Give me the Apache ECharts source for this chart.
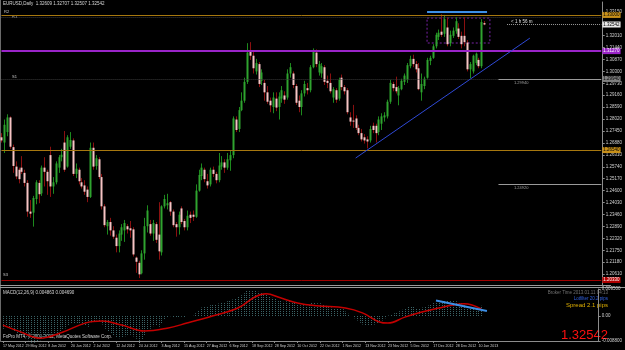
<!DOCTYPE html>
<html><head><meta charset="utf-8">
<script src="https://cdn.jsdelivr.net/npm/echarts@6/dist/echarts.min.js"></script>
<style>html,body{margin:0;padding:0;background:#000;}#c{width:625px;height:350px;}</style>
</head><body><div id="c"></div>
<script>
// ---- trading days per month (EURUSD Daily) ----
const monthDays = [
  ['May', 2012, [17,18,21,22,23,24,25,28,29,30,31]],
  ['Jun', 2012, [1,4,5,6,7,8,11,12,13,14,15,18,19,20,21,22,25,26,27,28,29]],
  ['Jul', 2012, [2,3,4,5,6,9,10,11,12,13,16,17,18,19,20,23,24,25,26,27,30,31]],
  ['Aug', 2012, [1,2,3,6,7,8,9,10,13,14,15,16,17,20,21,22,23,24,27,28,29,30,31]],
  ['Sep', 2012, [3,4,5,6,7,10,11,12,13,14,17,18,19,20,21,24,25,26,27,28]],
  ['Oct', 2012, [1,2,3,4,5,8,9,10,11,12,15,16,17,18,19,22,23,24,25,26,29,30,31]],
  ['Nov', 2012, [1,2,5,6,7,8,9,12,13,14,15,16,19,20,21,22,23,26,27,28,29,30]],
  ['Dec', 2012, [3,4,5,6,7,10,11,12,13,14,17,18,19,20,21,24,26,27,28,31]],
  ['Jan', 2013, [2,3,4,7,8,9,10,11]]
];
// ---- OHLC [open, high, low, close] ----
const ohlc = [
 [1.2715,1.2735,1.2690,1.2700],[1.2690,1.2800,1.2640,1.2775],[1.2740,1.2825,1.2720,1.2810],[1.2810,1.2815,1.2660,1.2670],
 [1.2668,1.2680,1.2545,1.2578],[1.2575,1.2600,1.2515,1.2528],[1.2560,1.2570,1.2495,1.2515],[1.2570,1.2625,1.2540,1.2550],
 [1.2545,1.2560,1.2480,1.2497],[1.2497,1.2510,1.2335,1.2360],[1.2360,1.2415,1.2330,1.2350],
 [1.2355,1.2435,1.2288,1.2425],[1.2420,1.2510,1.2395,1.2500],[1.2497,1.2510,1.2400,1.2443],[1.2447,1.2580,1.2435,1.2570],
 [1.2570,1.2620,1.2480,1.2550],[1.2550,1.2560,1.2440,1.2505],[1.2630,1.2670,1.2430,1.2480],[1.2480,1.2525,1.2445,1.2500],
 [1.2500,1.2600,1.2490,1.2590],[1.2570,1.2630,1.2545,1.2620],[1.2620,1.2660,1.2600,1.2632],[1.2690,1.2745,1.2550,1.2560],
 [1.2575,1.2725,1.2570,1.2715],[1.2670,1.2740,1.2660,1.2702],[1.2700,1.2710,1.2530,1.2540],[1.2540,1.2590,1.2520,1.2565],
 [1.2560,1.2570,1.2490,1.2505],[1.2500,1.2520,1.2470,1.2480],[1.2485,1.2510,1.2440,1.2455],[1.2465,1.2480,1.2405,1.2430],
 [1.2430,1.2690,1.2425,1.2665],
 [1.2665,1.2690,1.2560,1.2575],[1.2578,1.2630,1.2560,1.2615],[1.2610,1.2620,1.2515,1.2525],[1.2525,1.2540,1.2370,1.2385],
 [1.2385,1.2395,1.2285,1.2295],[1.2290,1.2320,1.2250,1.2310],[1.2310,1.2330,1.2245,1.2270],[1.2270,1.2290,1.2230,1.2240],
 [1.2235,1.2250,1.2165,1.2195],[1.2195,1.2270,1.2165,1.2255],[1.2250,1.2300,1.2220,1.2285],[1.2270,1.2320,1.2215,1.2305],
 [1.2290,1.2300,1.2255,1.2275],[1.2280,1.2315,1.2235,1.2270],[1.2275,1.2285,1.2145,1.2155],[1.2140,1.2145,1.2067,1.2120],
 [1.2115,1.2125,1.2042,1.2060],[1.2065,1.2175,1.2060,1.2160],[1.2160,1.2330,1.2130,1.2290],[1.2290,1.2390,1.2260,1.2365],
 [1.2300,1.2320,1.2245,1.2255],[1.2255,1.2320,1.2220,1.2305],
 [1.2300,1.2310,1.2210,1.2225],[1.2250,1.2405,1.2130,1.2170],[1.2165,1.2390,1.2150,1.2385],[1.2385,1.2440,1.2375,1.2420],
 [1.2390,1.2445,1.2370,1.2400],[1.2405,1.2410,1.2340,1.2360],[1.2360,1.2370,1.2285,1.2295],[1.2300,1.2310,1.2240,1.2285],
 [1.2285,1.2360,1.2250,1.2345],[1.2375,1.2385,1.2300,1.2310],[1.2315,1.2325,1.2270,1.2285],[1.2285,1.2365,1.2270,1.2340],
 [1.2345,1.2360,1.2305,1.2330],[1.2345,1.2365,1.2315,1.2335],[1.2335,1.2490,1.2330,1.2460],[1.2460,1.2560,1.2455,1.2535],
 [1.2530,1.2590,1.2510,1.2570],[1.2560,1.2570,1.2500,1.2515],[1.2505,1.2540,1.2470,1.2485],[1.2490,1.2570,1.2480,1.2560],
 [1.2560,1.2575,1.2525,1.2540],[1.2540,1.2550,1.2495,1.2510],[1.2510,1.2640,1.2500,1.2580],
 [1.2575,1.2625,1.2560,1.2595],[1.2595,1.2610,1.2545,1.2570],[1.2570,1.2640,1.2560,1.2610],[1.2605,1.2650,1.2555,1.2630],
 [1.2630,1.2815,1.2615,1.2805],[1.2800,1.2815,1.2740,1.2750],[1.2755,1.2860,1.2740,1.2845],[1.2845,1.2930,1.2840,1.2890],
 [1.2890,1.3000,1.2880,1.2980],[1.2980,1.3165,1.2970,1.3120],[1.3125,1.3170,1.3085,1.3105],[1.3105,1.3125,1.3020,1.3045],
 [1.3030,1.3090,1.3015,1.3070],[1.3065,1.3075,1.2955,1.2970],[1.2985,1.3040,1.2965,1.3025],[1.2975,1.2990,1.2890,1.2930],
 [1.2930,1.2960,1.2875,1.2885],[1.2890,1.2905,1.2835,1.2868],[1.2860,1.2930,1.2830,1.2905],[1.2900,1.2930,1.2840,1.2857],
 [1.2860,1.2930,1.2800,1.2910],[1.2900,1.2960,1.2880,1.2940],[1.2915,1.2935,1.2875,1.2895],[1.2905,1.3040,1.2895,1.3020],
 [1.3020,1.3070,1.3000,1.3050],[1.3020,1.3030,1.2950,1.2965],[1.2960,1.2970,1.2870,1.2880],[1.2890,1.2915,1.2835,1.2860],
 [1.2860,1.2940,1.2820,1.2925],[1.2925,1.2985,1.2910,1.2970],[1.2950,1.2975,1.2920,1.2940],[1.2940,1.3060,1.2930,1.3050],
 [1.3050,1.3140,1.3045,1.3125],[1.3120,1.3135,1.3050,1.3065],[1.3025,1.3080,1.3010,1.3065],[1.3020,1.3070,1.3000,1.3055],
 [1.3050,1.3060,1.2965,1.2980],[1.2985,1.3010,1.2950,1.2975],[1.2975,1.3020,1.2925,1.2935],[1.2905,1.2955,1.2880,1.2945],
 [1.2940,1.2950,1.2880,1.2895],[1.2900,1.3000,1.2890,1.2990],[1.3000,1.3015,1.2940,1.2955],
 [1.2955,1.2965,1.2920,1.2935],[1.2940,1.2950,1.2825,1.2835],[1.2810,1.2835,1.2770,1.2790],[1.2795,1.2870,1.2760,1.2790],
 [1.2805,1.2820,1.2750,1.2760],[1.2760,1.2775,1.2725,1.2735],[1.2735,1.2755,1.2695,1.2705],[1.2715,1.2730,1.2685,1.2700],
 [1.2705,1.2720,1.2662,1.2695],[1.2700,1.2770,1.2690,1.2755],[1.2770,1.2785,1.2735,1.2750],[1.2770,1.2780,1.2690,1.2735],
 [1.2740,1.2815,1.2725,1.2800],[1.2780,1.2830,1.2750,1.2815],[1.2810,1.2835,1.2790,1.2820],[1.2815,1.2895,1.2805,1.2885],
 [1.2885,1.2990,1.2875,1.2975],[1.2970,1.2980,1.2935,1.2950],[1.2955,1.3005,1.2925,1.2935],[1.2915,1.2960,1.2868,1.2950],
 [1.2945,1.2995,1.2940,1.2985],[1.2980,1.3020,1.2965,1.3010],
 [1.2990,1.3070,1.2975,1.3060],[1.3055,1.3105,1.3045,1.3090],[1.3090,1.3110,1.3050,1.3065],[1.3065,1.3080,1.3025,1.3040],
 [1.3045,1.3070,1.2940,1.2945],[1.2930,1.3020,1.2890,1.2970],[1.2960,1.3005,1.2945,1.2995],[1.3000,1.3095,1.2995,1.3085],
 [1.3080,1.3105,1.3060,1.3095],[1.3095,1.3160,1.3090,1.3150],[1.3150,1.3215,1.3140,1.3205],[1.3195,1.3230,1.3180,1.3215],
 [1.3220,1.3303,1.3195,1.3205],[1.3210,1.3300,1.3195,1.3280],[1.3240,1.3290,1.3150,1.3160],[1.3165,1.3225,1.3150,1.3205],
 [1.3200,1.3240,1.3190,1.3225],[1.3222,1.3290,1.3210,1.3270],[1.3235,1.3260,1.3185,1.3195],[1.3200,1.3220,1.3140,1.3160],
 [1.3200,1.3290,1.3150,1.3170],[1.3168,1.3180,1.3030,1.3040],[1.3040,1.3075,1.2998,1.3065],[1.3030,1.3110,1.3020,1.3105],
 [1.3070,1.3120,1.3060,1.3115],[1.3085,1.3095,1.3045,1.3055],[1.3055,1.3280,1.3045,1.3266],[1.32609,1.32707,1.32507,1.32542]
];
// ---- MACD(12,26,9) main (histogram) ----
const macdMain = [
 -0.0045,-0.0042,-0.0040,-0.0048,-0.0056,-0.0063,-0.0068,-0.0070,-0.0074,-0.0085,-0.0094,
 -0.0094,-0.0088,-0.0085,-0.0078,-0.0074,-0.0072,-0.0072,-0.0070,-0.0062,-0.0053,
 -0.0046,-0.0044,-0.0034,-0.0027,-0.0028,-0.0026,-0.0028,-0.0031,-0.0035,-0.0038,
 -0.0022,-0.0018,-0.0015,-0.0018,-0.0030,-0.0045,-0.0055,-0.0063,-0.0070,-0.0077,
 -0.0078,-0.0075,-0.0071,-0.0068,-0.0066,-0.0072,-0.0080,-0.0088,-0.0084,-0.0068,
 -0.0052,-0.0045,-0.0036,-0.0032,-0.0038,-0.0025,-0.0012,-0.0004,-0.0001,-0.0004,
 -0.0006,-0.0004,-0.0003,-0.0004,0.0000,0.0000,0.0001,0.0010,0.0021,0.0030,
 0.0033,0.0034,0.0038,0.0040,0.0040,0.0044,0.0048,0.0048,0.0052,0.0056,
 0.0058,0.0062,0.0067,0.0073,0.0080,0.0088,0.0090,0.0089,0.0088,0.0085,
 0.0083,0.0078,0.0074,0.0068,0.0064,0.0060,0.0055,0.0053,0.0050,0.0052,
 0.0053,0.0051,0.0046,0.0040,0.0038,0.0038,0.0036,0.0040,0.0046,0.0046,
 0.0045,0.0045,0.0040,0.0036,0.0032,0.0030,0.0027,0.0026,0.0026,0.0024,
 0.0016,0.0008,0.0000,-0.0008,-0.0016,-0.0024,-0.0030,-0.0034,-0.0034,-0.0032,
 -0.0030,-0.0025,-0.0020,-0.0016,-0.0008,0.0002,0.0006,0.0010,0.0013,0.0017,
 0.0022,0.0028,0.0033,0.0035,0.0032,0.0028,0.0027,0.0030,0.0034,0.0037,
 0.0042,0.0048,0.0050,0.0054,0.0055,0.0054,0.0053,0.0054,0.0054,0.0052,
 0.0049,0.0046,0.0038,0.0033,0.0030,0.0028,0.0025,0.0032,0.0036
];
// ---- MACD signal line, read at [bar index, value] ----
const macdSignal = [
 [0,-0.0032],[6,-0.0055],[13,-0.0078],[21,-0.0057],[29,-0.0025],[35,-0.0018],[42,-0.0032],
 [50,-0.0053],[58,-0.0043],[65,-0.0025],[74,0.0000],[83,0.0028],[89,0.0067],[93,0.0078],
 [98,0.0064],[104,0.0046],[111,0.0036],[121,0.0028],[127,0.0011],[133,-0.0021],[136,-0.0025],
 [142,-0.0004],[148,0.0014],[154,0.0028],[159,0.0039],[163,0.0043],[169,0.0025]
];
// ---- right price axis tick labels ----
const priceTicks = [1.20040,1.20610,1.21180,1.21750,1.22320,1.22890,1.23460,1.24030,1.24600,1.25170,
 1.25740,1.26310,1.26880,1.27450,1.28020,1.28590,1.29160,1.29730,1.30300,1.30870,1.31440,1.32010,1.33150];
const macdTicks = [-0.0088, 0, 0.0095];
// ---- horizontal levels ----
const levelTop = 1.33000, levelPurple = 1.31270, levelGrayHi = 1.29940, levelMid = 1.26540, levelGrayLo = 1.24920, levelLow = 1.20330;
const dottedTop = 1.32900, bidPrice = 1.32542;
// ---- drawn objects (bar index, price) ----
const trendLine = [[124, 1.26160], [185, 1.31892]];
const topSegment = [[149, 1.33140], [170, 1.33140]];
const boxArea = [[149, 1.32853], [171, 1.31658]];
const macdSegment = [[153, 0.00544], [171, 0.00178]];

// ---------- build ----------
const dates = [];
monthDays.forEach(([m, y, ds]) => ds.forEach(d => dates.push(d + ' ' + m + ' ' + y)));
const SLOTS = 211;
const cats = dates.slice();
while (cats.length < SLOTS) cats.push('');
const candleData = ohlc.map((r, i) => [i, r[0], r[1], r[2], r[3]]);
const histData = macdMain.map((v, i) => [i, v]);

const chart = echarts.init(document.getElementById('c'), null, {renderer: 'canvas'});
const FONT = 'Liberation Sans, Arial, sans-serif';

function renderCandle(params, api) {
  const i = api.value(0), o = api.value(1), h = api.value(2), l = api.value(3), c = api.value(4);
  const x = Math.round(api.coord([i, o])[0]);
  const yo = api.coord([i, o])[1], yc = api.coord([i, c])[1];
  const yh = api.coord([i, h])[1], yl = api.coord([i, l])[1];
  const up = c >= o;
  const top = Math.min(yo, yc), bot = Math.max(yo, yc);
  return {type: 'group', children: [
    {type: 'line', shape: {x1: x + 0.5, y1: yh, x2: x + 0.5, y2: yl},
     style: {stroke: up ? '#1d8a1d' : '#8a1010', lineWidth: 1}},
    {type: 'rect', shape: {x: x - 0.5, y: top, width: 2, height: Math.max(1, bot - top)},
     style: {fill: up ? '#2fa32f' : '#f6c4c4'}}
  ]};
}
function renderHist(params, api) {
  const i = api.value(0), v = api.value(1);
  const p0 = api.coord([i, 0]), p1 = api.coord([i, v]);
  const x = Math.round(p0[0]) + 0.5;
  return {type: 'line', shape: {x1: x, y1: p0[1], x2: x, y2: p1[1]},
    style: {stroke: '#3b6366', lineWidth: 1, lineDash: [1, 1]}};
}
function tag(bg, fg, val) {
  return {show: true, position: 'end', distance: 1, fontSize: 4.5, fontFamily: FONT, color: fg,
    backgroundColor: bg, padding: [1, 1, 0, 1], formatter: () => val.toFixed(5)};
}
const NOLINE = {show: false};
function seg(x0, x1, y, color, type, width, label) {
  return [{coord: [x0, y], lineStyle: {color: color, type: type, width: width}},
          {coord: [x1, y], label: label || NOLINE}];
}
const every8 = (idx) => idx % 8 === 0 && idx < dates.length;

const option = {
  backgroundColor: '#000000',
  animation: false,
  grid: [
    {left: 0, top: 2, width: 610, height: 283, show: false},
    {left: 0, top: 289, width: 610, height: 52, show: false}
  ],
  xAxis: [
    {type: 'category', gridIndex: 0, data: cats, boundaryGap: true,
     axisLine: {show: false}, axisTick: {show: false}, axisLabel: {show: false}, splitLine: {show: false}},
    {type: 'category', gridIndex: 1, data: cats, boundaryGap: true, position: 'bottom',
     axisLine: {show: true, onZero: false, lineStyle: {color: '#8c8c8c', width: 1}},
     axisTick: {show: true, alignWithLabel: true, length: 2, lineStyle: {color: '#8c8c8c'}, interval: every8},
     axisLabel: {show: true, fontSize: 3.6, fontFamily: FONT, color: '#d0d0d0', align: 'left', margin: 3,
       showMinLabel: true, hideOverlap: false, interval: every8},
     splitLine: {show: false}}
  ],
  yAxis: [
    {type: 'value', gridIndex: 0, position: 'right', min: 1.20090, max: 1.33618,
     axisLine: {show: true, lineStyle: {color: '#8c8c8c'}},
     axisTick: {show: true, length: 2, customValues: priceTicks, lineStyle: {color: '#8c8c8c'}},
     axisLabel: {show: true, customValues: priceTicks, fontSize: 4.5, fontFamily: FONT, color: '#d0d0d0', margin: 3,
       formatter: v => v.toFixed(5)},
     splitLine: {show: false}},
    {type: 'value', gridIndex: 1, position: 'right', min: -0.0088, max: 0.0095,
     axisLine: {show: true, lineStyle: {color: '#8c8c8c'}},
     axisTick: {show: true, length: 2, customValues: macdTicks, lineStyle: {color: '#8c8c8c'}},
     axisLabel: {show: true, customValues: macdTicks, fontSize: 4.5, fontFamily: FONT, color: '#d0d0d0', margin: 3,
       formatter: v => v === 0 ? '0.00' : v.toFixed(6)},
     splitLine: {show: false}}
  ],
  series: [
    {type: 'line', xAxisIndex: 0, yAxisIndex: 0, data: [], silent: true,
     markLine: {symbol: 'none', silent: true, animation: false, label: NOLINE, data: [
       seg(0, SLOTS - 1, dottedTop, '#3a3a3a', [1, 1], 1),
       seg(0, SLOTS - 1, levelGrayHi, '#3a3a3a', [1, 1], 1),
       seg(0, SLOTS - 1, levelTop, '#a7780f', 'solid', 1, tag('#c8901a', '#000', levelTop)),
       seg(0, SLOTS - 1, levelPurple, '#9a24c8', 'solid', 2, tag('#9a24c8', '#fff', levelPurple)),
       seg(0, SLOTS - 1, levelMid, '#a7780f', 'solid', 1, tag('#c8901a', '#000', levelMid)),
       seg(0, SLOTS - 1, levelLow, '#a00000', 'solid', 1, tag('#b00000', '#fff', levelLow)),
       seg(174, SLOTS - 1, levelGrayHi, '#9a9a9a', 'solid', 1, tag('#808080', '#000', levelGrayHi)),
       seg(174, SLOTS - 1, levelGrayLo, '#9a9a9a', 'solid', 1),
       seg(177, SLOTS - 1, bidPrice, '#9a9a9a', [1, 1], 1, tag('#e8e8e8', '#000', bidPrice))
     ]}
    },
    {type: 'custom', xAxisIndex: 0, yAxisIndex: 0, data: candleData, renderItem: renderCandle,
     encode: {x: 0, y: [1, 2, 3, 4]}, silent: true, clip: true},
    {type: 'line', xAxisIndex: 0, yAxisIndex: 0, data: [], silent: true,
     markLine: {symbol: 'none', silent: true, label: NOLINE, data: [
       [{coord: trendLine[0], lineStyle: {color: '#2f49d6', width: 1, type: 'solid'}}, {coord: trendLine[1]}],
       [{coord: topSegment[0], lineStyle: {color: '#3d8fe6', width: 2, type: 'solid'}}, {coord: topSegment[1]}]
     ]},
     markArea: {silent: true, itemStyle: {color: 'rgba(0,0,0,0)', borderColor: '#7a22a8', borderWidth: 1, borderType: [2, 2]},
       label: NOLINE,
       data: [[{coord: boxArea[0]}, {coord: boxArea[1]}]]}
    },
    {type: 'custom', xAxisIndex: 1, yAxisIndex: 1, data: histData, renderItem: renderHist,
     encode: {x: 0, y: 1}, silent: true},
    {type: 'line', xAxisIndex: 1, yAxisIndex: 1, data: macdSignal, smooth: 0.4, symbol: 'none', silent: true,
     lineStyle: {color: '#c40000', width: 1.5},
     markLine: {symbol: 'none', silent: true, label: NOLINE, data: [
       [{coord: macdSegment[0], lineStyle: {color: '#3d8fe6', width: 2, type: 'solid'}}, {coord: macdSegment[1]}]
     ]}}
  ],
  graphic: [
    {type: 'rect', shape: {x: 0, y: 0, width: 1, height: 342}, style: {fill: '#6a6a6a'}, silent: true},
    {type: 'rect', shape: {x: 0, y: 285, width: 611, height: 1}, style: {fill: '#9a9a9a'}, silent: true},
    {type: 'rect', shape: {x: 0, y: 287, width: 625, height: 1}, style: {fill: '#9a9a9a'}, silent: true},
    {type: 'text', left: 3, top: 1, style: {text: 'EURUSD,Daily  1.32609 1.32707 1.32507 1.32542', fill: '#d8d8d8', font: '4.5px ' + FONT}},
    {type: 'text', left: 4, top: 10, style: {text: 'R2', fill: '#c8c8c8', font: '4px ' + FONT}},
    {type: 'text', left: 12, top: 15, style: {text: 'R1', fill: '#c8c8c8', font: '4px ' + FONT}},
    {type: 'text', left: 12, top: 75, style: {text: 'S1', fill: '#c8c8c8', font: '4px ' + FONT}},
    {type: 'text', left: 3, top: 273, style: {text: 'S3', fill: '#c8c8c8', font: '4px ' + FONT}},
    {type: 'text', left: 511, top: 19, style: {text: '< 1 h 56 m', fill: '#e0e0e0', font: '4.5px ' + FONT}},
    {type: 'text', left: 514, top: 81, style: {text: '1.29940', fill: '#a0a0a0', font: '4px ' + FONT}},
    {type: 'text', left: 514, top: 186, style: {text: '1.24920', fill: '#a0a0a0', font: '4px ' + FONT}},
    {type: 'text', left: 3, top: 290, style: {text: 'MACD(12,26,9) 0.004863 0.004690', fill: '#d8d8d8', font: '4.5px ' + FONT}},
    {type: 'text', left: 3, top: 334, style: {text: 'FxPro MT4, \u00a9 2001-2012, MetaQuotes Software Corp.', fill: '#d8d8d8', font: '4.5px ' + FONT}},
    {type: 'text', right: 17, top: 290, style: {text: 'Broker Time 2013.01.11 04:13', fill: '#707070', font: '4.5px ' + FONT, align: 'right'}},
    {type: 'text', right: 17, top: 296, style: {text: 'Lotfilter 20.2 pips', fill: '#3060e0', font: '4.5px ' + FONT, align: 'right'}},
    {type: 'text', right: 17, top: 302, style: {text: 'Spread 2.1 pips', fill: '#e0b000', font: '6px ' + FONT, align: 'right'}},
    {type: 'text', right: 17, top: 329, style: {text: '1.32542', fill: '#ff1010', font: '13px ' + FONT, align: 'right'}}
  ]
};
chart.setOption(option);
</script></body></html>
